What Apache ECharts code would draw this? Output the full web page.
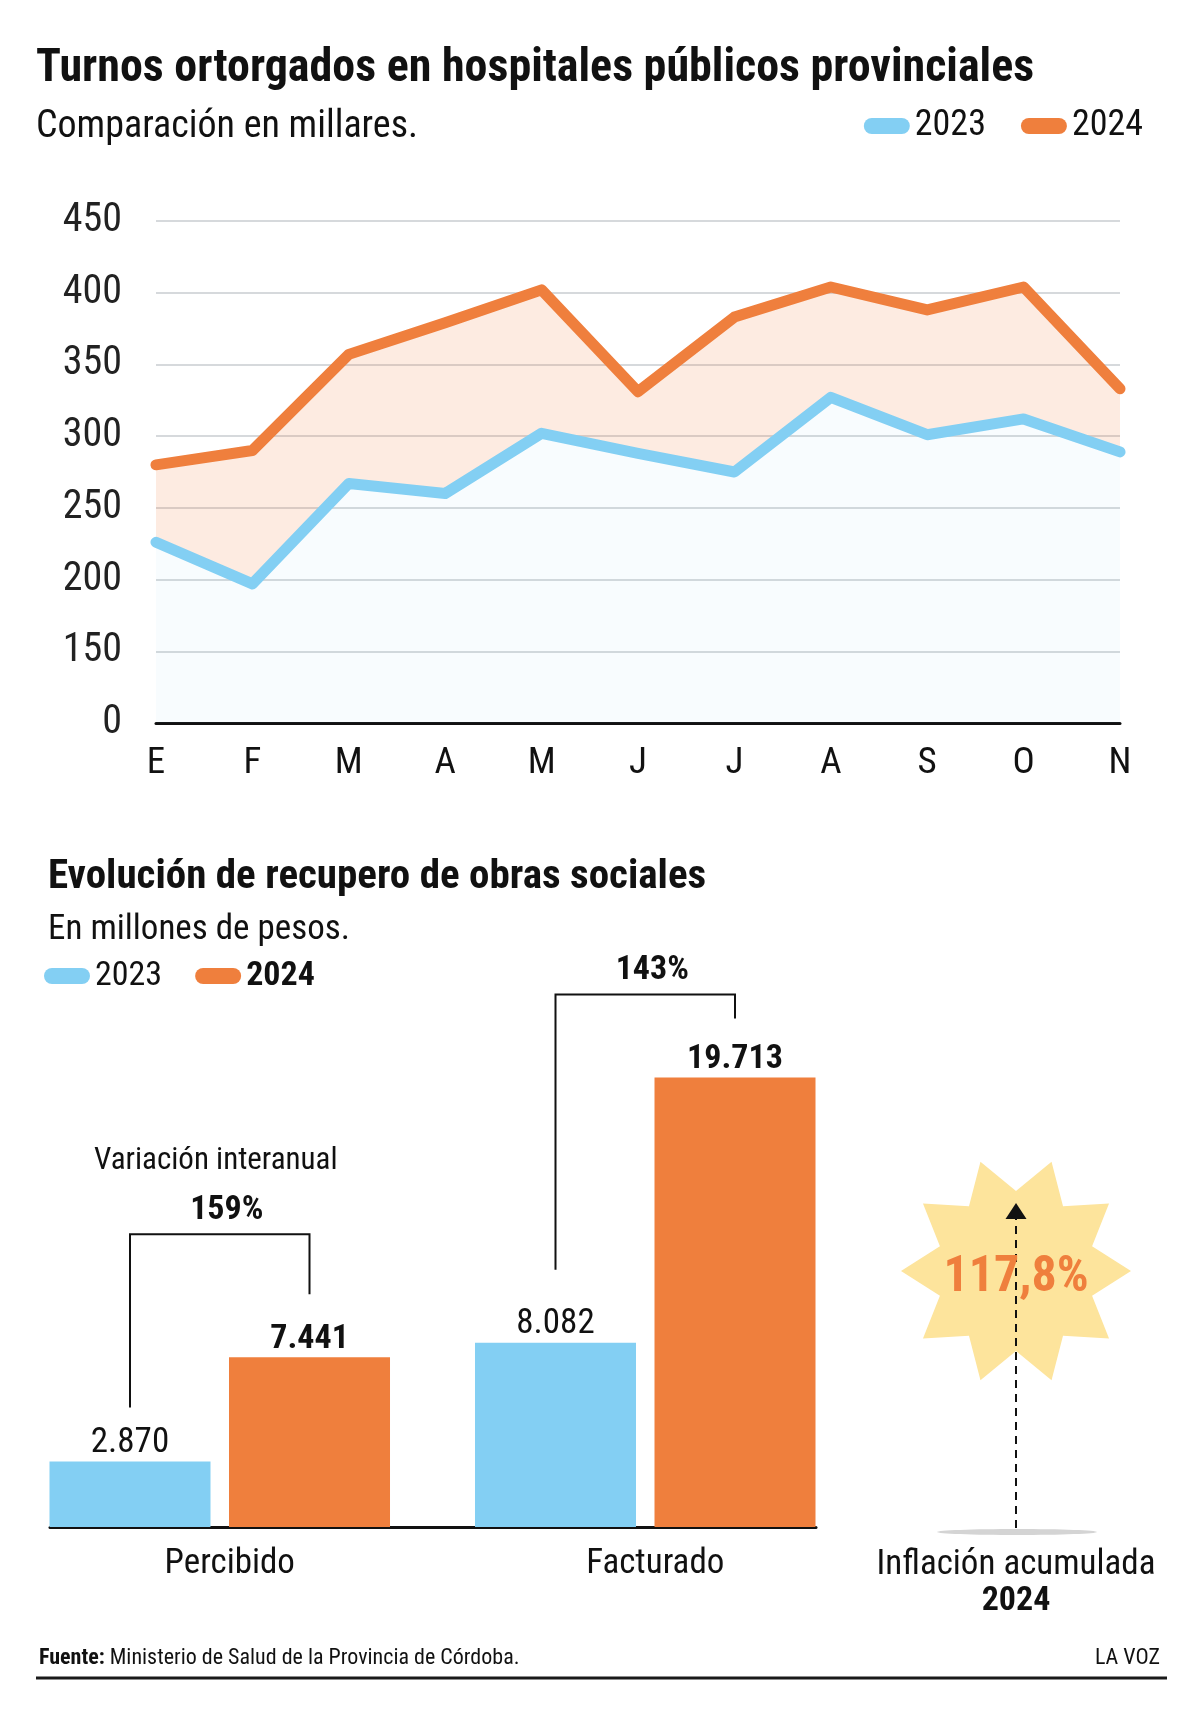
<!DOCTYPE html>
<html>
<head>
<meta charset="utf-8">
<script src="https://cdn.jsdelivr.net/npm/echarts@6/dist/echarts.min.js"></script>
<style>
  html, body { margin: 0; padding: 0; background: #fff; }
  #main { width: 1200px; height: 1714px; }
</style>
</head>
<body>
<div id="main"></div>
<script>
// turnos otorgados, en miles
const meses = ['E', 'F', 'M', 'A', 'M', 'J', 'J', 'A', 'S', 'O', 'N'];
const turnos2023 = [226, 197, 267, 260, 302, 288, 275, 327, 301, 312, 289];
const turnos2024 = [280, 290, 357, 379, 402, 331, 383, 404, 388, 404, 333];
const yTickLabels = ['0', '150', '200', '250', '300', '350', '400', '450'];

// recupero de obras sociales, millones de pesos
const rubros = ['Percibido', 'Facturado'];
const recupero2023 = [2870, 8082];
const recupero2024 = [7441, 19713];
const variacion = [159, 143];
const inflacion = 117.8;

const FONT = "'Roboto Condensed', 'DejaVu Sans Condensed', sans-serif";
const BLUE = '#83cff3';
const ORANGE = '#ef7f3d';
const INK = '#111';
const PILL = 'path://M8,0 H38 A8,8 0 0 1 38,16 H8 A8,8 0 0 1 8,0 Z';

const BAR_W = 161;
const barOffset = (BAR_W + 18.5) / 2;
const bracketLayout = [
  { top: 123, left: 54, right: 63 },
  { top: 83, left: 73, right: 59 }
];

const miles = v => String(v).replace(/\B(?=(\d{3})+(?!\d))/g, '.');

function starPoints (cx, cy, rOut, rIn, n) {
  const pts = [];
  for (let k = 0; k < n * 2; k++) {
    const a = k * Math.PI / n;
    const r = k % 2 === 0 ? rOut : rIn;
    pts.push([cx + r * Math.cos(a), cy - r * Math.sin(a)]);
  }
  return pts;
}

const chart = echarts.init(document.getElementById('main'), null, { renderer: 'canvas' });

const option = {
  backgroundColor: '#fff',
  animation: false,
  title: [
    {
      text: 'Turnos ortorgados en hospitales públicos provinciales',
      left: 36, top: 46, padding: 0,
      textStyle: { fontFamily: FONT, fontSize: 46, fontWeight: 'bold', color: INK, lineHeight: 46 }
    },
    {
      text: 'Comparación en millares.',
      left: 36, top: 108, padding: 0,
      textStyle: { fontFamily: FONT, fontSize: 38, fontWeight: 'normal', color: INK, lineHeight: 38 }
    },
    {
      text: 'Evolución de recupero de obras sociales',
      left: 48, top: 857, padding: 0,
      textStyle: { fontFamily: FONT, fontSize: 41, fontWeight: 'bold', color: INK, lineHeight: 41 }
    },
    {
      text: 'En millones de pesos.',
      left: 48, top: 913, padding: 0,
      textStyle: { fontFamily: FONT, fontSize: 35, fontWeight: 'normal', color: INK, lineHeight: 35 }
    },
    {
      text: '{b|Fuente:} Ministerio de Salud de la Provincia de Córdoba.',
      left: 39, top: 1647, padding: 0,
      textStyle: {
        fontFamily: FONT, fontSize: 22, fontWeight: 'normal', color: INK, lineHeight: 22,
        rich: { b: { fontFamily: FONT, fontSize: 22, fontWeight: 'bold', color: INK, lineHeight: 22 } }
      }
    },
    {
      text: 'LA VOZ',
      right: 40, top: 1647, padding: 0,
      textStyle: { fontFamily: FONT, fontSize: 22, fontWeight: 'normal', color: INK, lineHeight: 22 }
    }
  ],
  legend: [
    {
      data: ['2023', '2024'],
      right: 57, top: 108, padding: 0,
      icon: PILL, itemWidth: 46, itemHeight: 17, itemGap: 35,
      selectedMode: false,
      textStyle: { fontFamily: FONT, fontSize: 36, color: INK, lineHeight: 36 }
    },
    {
      data: ['2023', '2024'],
      left: 44, top: 959, padding: 0,
      icon: PILL, itemWidth: 46, itemHeight: 17, itemGap: 33,
      selectedMode: false,
      formatter: n => n === '2024' ? '{b|' + n + '}' : n,
      textStyle: {
        fontFamily: FONT, fontSize: 34, color: INK, lineHeight: 34,
        rich: { b: { fontFamily: FONT, fontSize: 34, fontWeight: 'bold', color: INK, lineHeight: 34 } }
      }
    }
  ],
  grid: [
    { left: 156, right: 80, top: 221, bottom: 991 },
    { left: 7, right: 342, top: 1071, bottom: 187 },
    { left: 50, right: 384, top: 1071, bottom: 187 }
  ],
  xAxis: [
    {
      gridIndex: 0, type: 'category', data: meses, boundaryGap: false,
      axisLine: { lineStyle: { color: INK, width: 3 } },
      axisTick: { show: false },
      axisLabel: { fontFamily: FONT, fontSize: 37, color: INK, margin: 22 }
    },
    {
      gridIndex: 1, type: 'category', data: rubros,
      axisLine: { show: false }, axisTick: { show: false },
      axisLabel: { fontFamily: FONT, fontSize: 35, color: INK, margin: 20, padding: [0, 0, 0, 20] }
    },
    {
      gridIndex: 2, type: 'value', min: 0, max: 1,
      axisLine: { show: true, lineStyle: { color: INK, width: 3 } },
      axisTick: { show: false }, axisLabel: { show: false }, splitLine: { show: false }
    }
  ],
  yAxis: [
    {
      gridIndex: 0, type: 'value', min: 100, max: 450, interval: 50,
      axisLine: { show: false }, axisTick: { show: false },
      axisLabel: {
        fontFamily: FONT, fontSize: 40, color: '#222', margin: 34,
        formatter: v => yTickLabels[Math.round((v - 100) / 50)]
      },
      splitLine: { lineStyle: { color: '#d6d9dc', width: 2 } }
    },
    { gridIndex: 1, type: 'value', min: 0, max: 20000, show: false },
    { gridIndex: 2, type: 'value', min: 0, max: 1, show: false }
  ],
  series: [
    {
      name: '2023', type: 'line', xAxisIndex: 0, yAxisIndex: 0, stack: 'turnos',
      data: turnos2023, showSymbol: false, symbol: 'none',
      itemStyle: { color: BLUE },
      lineStyle: { color: BLUE, width: 11, cap: 'round', join: 'round' },
      areaStyle: { color: 'rgba(131,207,243,0.08)' },
      z: 3
    },
    {
      name: '2024', type: 'line', xAxisIndex: 0, yAxisIndex: 0, stack: 'turnos',
      data: turnos2024.map((v, i) => v - turnos2023[i]), showSymbol: false, symbol: 'none',
      itemStyle: { color: ORANGE },
      lineStyle: { color: ORANGE, width: 11, cap: 'round', join: 'round' },
      areaStyle: { color: 'rgba(239,127,61,0.22)' },
      z: 3
    },
    {
      name: '2023', type: 'bar', xAxisIndex: 1, yAxisIndex: 1,
      data: recupero2023, barWidth: BAR_W, barGap: '11.5%',
      itemStyle: { color: BLUE },
      label: {
        show: true, position: 'top', distance: 1,
        fontFamily: FONT, fontSize: 35, color: INK, lineHeight: 35,
        formatter: p => miles(p.value)
      }
    },
    {
      name: '2024', type: 'bar', xAxisIndex: 1, yAxisIndex: 1,
      data: recupero2024, barWidth: BAR_W,
      itemStyle: { color: ORANGE },
      label: {
        show: true, position: 'top', distance: 1,
        fontFamily: FONT, fontSize: 34, fontWeight: 'bold', color: INK, lineHeight: 34,
        formatter: p => miles(p.value)
      }
    },
    {
      type: 'custom', xAxisIndex: 1, yAxisIndex: 1, silent: true, clip: false, z: 5,
      encode: { x: 0, y: [1, 2] },
      data: rubros.map((r, i) => [i, recupero2023[i], recupero2024[i], variacion[i]]),
      renderItem: function (params, api) {
        const i = api.value(0);
        const lay = bracketLayout[i];
        const cx = api.coord([i, 0])[0];
        const xl = cx - barOffset;
        const xr = cx + barOffset;
        const y24 = api.coord([i, api.value(2)])[1];
        const yl = api.coord([i, api.value(1)])[1] - lay.left;
        const yr = y24 - lay.right;
        const yt = y24 - lay.top;
        const children = [
          {
            type: 'polyline',
            shape: { points: [[xl, yl], [xl, yt], [xr, yt], [xr, yr]] },
            style: { stroke: INK, lineWidth: 2, fill: null }
          },
          {
            type: 'text', x: (xl + xr) / 2 + 7, y: yt - 24,
            style: {
              text: api.value(3) + '%', fill: INK, align: 'center', verticalAlign: 'middle',
              fontFamily: FONT, fontSize: 34, fontWeight: 'bold'
            }
          }
        ];
        if (i === 0) {
          children.push({
            type: 'text', x: (xl + xr) / 2 - 4, y: yt - 73,
            style: {
              text: 'Variación interanual', fill: INK, align: 'center', verticalAlign: 'middle',
              fontFamily: FONT, fontSize: 31
            }
          });
        }
        return { type: 'group', children: children };
      }
    }
  ],
  graphic: [
    {
      type: 'polygon', shape: { points: starPoints(1016, 1271, 115, 80, 10) },
      style: { fill: '#fde49c' }, z: 1
    },
    {
      type: 'ellipse', shape: { cx: 1017, cy: 1532, rx: 80, ry: 3 },
      style: { fill: '#d4d4d4' }, z: 1
    },
    {
      type: 'line', shape: { x1: 1016, y1: 1528, x2: 1016, y2: 1217 },
      style: { stroke: INK, lineWidth: 2, lineDash: [8, 6] }, z: 2
    },
    {
      type: 'polygon', shape: { points: [[1016, 1203], [1005.5, 1219], [1026.5, 1219]] },
      style: { fill: INK }, z: 2
    },
    {
      type: 'text', x: 1016, y: 1278, z: 3,
      style: {
        text: String(inflacion).replace('.', ',') + '%', fill: ORANGE,
        align: 'center', verticalAlign: 'middle',
        fontFamily: FONT, fontSize: 50, fontWeight: 'bold'
      }
    },
    {
      type: 'text', x: 1016, y: 1565, z: 3,
      style: {
        text: 'Inflación acumulada', fill: INK, align: 'center', verticalAlign: 'middle',
        fontFamily: FONT, fontSize: 35
      }
    },
    {
      type: 'text', x: 1016, y: 1601, z: 3,
      style: {
        text: '2024', fill: INK, align: 'center', verticalAlign: 'middle',
        fontFamily: FONT, fontSize: 34, fontWeight: 'bold'
      }
    },
    {
      type: 'line', shape: { x1: 36, y1: 1678, x2: 1167, y2: 1678 },
      style: { stroke: '#1a1a1a', lineWidth: 3 }
    }
  ]
};

chart.setOption(option);
</script>
</body>
</html>
